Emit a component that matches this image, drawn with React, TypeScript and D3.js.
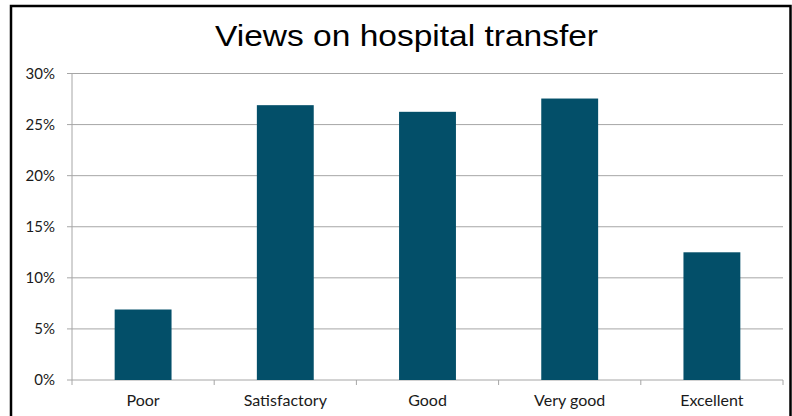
import React from "react";
import * as d3 from "d3";

const categories = ["Poor", "Satisfactory", "Good", "Very good", "Excellent"];
const values = [6.9, 26.9, 26.25, 27.55, 12.5];
const yTicks = [0, 5, 10, 15, 20, 25, 30];
const title = "Views on hospital transfer";

const W = 792;
const H = 416;
const left = 72;
const right = 783;
const top = 73.5;
const bottom = 380;

export default function App() {
  const x = d3.scaleBand<string>().domain(categories).range([left, right]).paddingInner(0.6).paddingOuter(0.3);
  const xEdge = d3.scaleLinear().domain([0, categories.length]).range([left, right]);
  const y = d3.scaleLinear().domain([0, 30]).range([bottom, top]);
  const gridColor = "#A6A6A6";
  const labelFont = "Lato, 'Open Sans', sans-serif";
  return (
    <svg width={W} height={H} style={{ position: "absolute", left: 0, top: 0, background: "#fff" }}>
      <rect x={0} y={0} width={W} height={H} fill="#fff" />
      <path d={`M11,${H + 2} V6 H790.5 V${H + 2}`} fill="none" stroke="#000" strokeWidth={2.5} />
      <text
        x={215}
        y={46}
        fontFamily="'Liberation Sans', Arial, sans-serif"
        fontSize={30}
        textLength={383}
        lengthAdjust="spacingAndGlyphs"
        fill="#000"
      >
        {title}
      </text>
      {yTicks.map((t) => (
        <g key={t}>
          <line x1={left - 5} x2={right} y1={y(t)} y2={y(t)} stroke={gridColor} strokeWidth={1} />
          <text
            x={55}
            y={y(t)}
            dy="0.35em"
            textAnchor="end"
            fontFamily={labelFont}
            fontSize={15}
            fill="#1a1a1a"
          >
            {t}%
          </text>
        </g>
      ))}
      <line x1={left} x2={left} y1={top} y2={bottom} stroke={gridColor} strokeWidth={1} />
      {d3.range(categories.length + 1).map((i) => (
        <line key={i} x1={xEdge(i)} x2={xEdge(i)} y1={bottom} y2={bottom + 5} stroke={gridColor} strokeWidth={1} />
      ))}
      {categories.map((c, i) => (
        <rect
          key={c}
          x={x(c)}
          y={y(values[i])}
          width={x.bandwidth()}
          height={bottom - y(values[i])}
          fill="#034F69"
        />
      ))}
      {categories.map((c) => (
        <text
          key={c}
          x={(x(c) as number) + x.bandwidth() / 2}
          y={406}
          textAnchor="middle"
          fontFamily={labelFont}
          fontSize={16}
          fill="#1a1a1a"
        >
          {c}
        </text>
      ))}
    </svg>
  );
}
